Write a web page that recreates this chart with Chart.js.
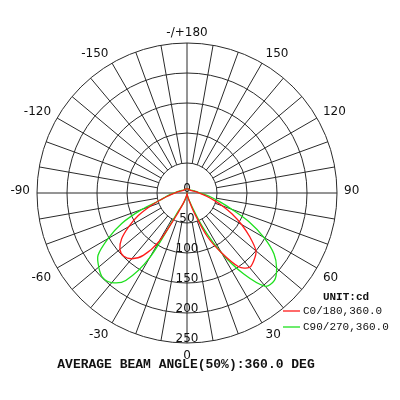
<!DOCTYPE html>
<html>
<head>
<meta charset="utf-8">
<script src="https://cdn.jsdelivr.net/npm/chart.js@4"></script>
<style>
  body { margin: 0; background: #fff; }
  canvas { display: block; }
</style>
</head>
<body>
<canvas id="chartContainer" width="400" height="400"></canvas>
<script>
// gamma angles, clockwise from the top of the diagram
let angles = [180, 175, 170, 165, 160, 155, 150, 145, 140, 135, 130, 125, 120, 115, 110, 105, 100, 95,
  90, 85, 80, 75, 70, 65, 60, 55, 50, 45, 40, 35, 30, 25, 20, 15, 10, 5,
  0, -5, -10, -15, -20, -25, -30, -35, -40, -45, -50, -55, -60, -65, -70, -75, -80, -85,
  -90, -95, -100, -105, -110, -115, -120, -125, -130, -135, -140, -145, -150, -155, -160, -165, -170, -175];

// intensity in cd, same order as angles
let c0_180 = [7, 7, 7, 7, 7, 7, 7, 7, 7, 7, 7, 8, 8, 9, 10, 12, 14, 17,
  20, 26, 34, 46, 63, 83, 105, 128, 150, 158, 162, 150, 115, 80, 35, 12, 5, 2,
  0, 2, 5, 9, 18, 40, 93, 127, 143, 149, 146, 133, 112, 90, 66, 47, 34, 26,
  20, 17, 14, 12, 10, 9, 8, 8, 7, 7, 7, 7, 7, 7, 7, 7, 7, 7];

let c90_270 = [7, 7, 7, 7, 7, 7, 7, 7, 7, 7, 7, 8, 9, 10, 11, 13, 15, 18,
  22, 30, 41, 57, 80, 115, 148, 177, 195, 206, 203, 165, 116, 65, 24, 10, 5, 2,
  0, 2, 5, 10, 20, 30, 125, 178, 195, 199, 192, 181, 152, 120, 80, 47, 36, 28,
  22, 18, 15, 13, 11, 10, 9, 8, 7, 7, 7, 7, 7, 7, 7, 7, 7, 7];

let ringTicks = [0, 50, 100, 150, 200, 250];
let labelAngles = [180, 150, 120, 90, 60, 30, 0, -30, -60, -90, -120, -150];

let seriesNames = ['C0/180,360.0', 'C90/270,360.0'];
let unitText = 'UNIT:cd';
let footerText = 'AVERAGE BEAM ANGLE(50%):360.0 DEG';

let lineColor = '#2a2a2a';
let textColor = '#111';

function angleText(a) {
  if (a === 180) return '-/+180';
  return String(a);
}

// spokes, axis cross, ring values and angle labels
let gridPlugin = {
  id: 'polarGrid',
  beforeDatasetsDraw(chart) {
    let scale = chart.scales.r;
    let ctx = chart.ctx;
    let inner = scale.getDistanceFromCenterForValue(50);
    let outer = scale.getDistanceFromCenterForValue(250);

    ctx.save();
    ctx.strokeStyle = lineColor;
    ctx.lineWidth = 1;
    angles.forEach((a, i) => {
      if (a % 10 !== 0) return;
      let from = (a % 90 === 0) ? 0 : inner;
      let p1 = scale.getPointPosition(i, from);
      let p2 = scale.getPointPosition(i, outer);
      ctx.beginPath();
      ctx.moveTo(p1.x, p1.y);
      ctx.lineTo(p2.x, p2.y);
      ctx.stroke();
    });

    ctx.fillStyle = textColor;
    ctx.font = '12px "DejaVu Sans"';
    ctx.textAlign = 'center';
    ctx.textBaseline = 'alphabetic';
    ringTicks.forEach((v) => {
      let d = scale.getDistanceFromCenterForValue(v);
      ctx.fillText(String(v), scale.xCenter, scale.yCenter + d - 1.5);
    });

    labelAngles.forEach((a) => {
      let i = angles.indexOf(a);
      let p = scale.getPointPosition(i, outer + 7);
      let dx = p.x - scale.xCenter;
      let dy = p.y - scale.yCenter;
      ctx.textAlign = Math.abs(dx) < 1 ? 'center' : (dx > 0 ? 'left' : 'right');
      let y = p.y;
      if (Math.abs(dy) < 1) y = p.y + 1;
      else if (dy > 0) y = p.y + 9;
      ctx.fillText(angleText(a), p.x, y);
    });
    ctx.restore();
  },
  afterDraw(chart) {
    let ctx = chart.ctx;
    ctx.save();
    ctx.fillStyle = textColor;
    ctx.textBaseline = 'middle';

    ctx.font = 'bold 11px "Liberation Mono"';
    ctx.textAlign = 'center';
    ctx.fillText(unitText, 346, 297);

    ctx.font = '11px "Liberation Mono"';
    ctx.textAlign = 'left';
    chart.data.datasets.forEach((ds, k) => {
      let y = 311 + k * 16;
      ctx.strokeStyle = ds.borderColor;
      ctx.lineWidth = 1.3;
      ctx.beginPath();
      ctx.moveTo(283, y);
      ctx.lineTo(300, y);
      ctx.stroke();
      ctx.fillText(ds.label, 303, y);
    });

    ctx.font = 'bold 13px "Liberation Mono"';
    ctx.textAlign = 'center';
    ctx.fillText(footerText, 186, 365);
    ctx.restore();
  }
};

let chart = new Chart(document.getElementById('chartContainer'), {
  type: 'radar',
  data: {
    labels: angles,
    datasets: [
      {
        label: seriesNames[0],
        data: c0_180,
        borderColor: '#ff1a1a',
        borderWidth: 1.3,
        fill: false,
        pointRadius: 0,
        tension: 0.3
      },
      {
        label: seriesNames[1],
        data: c90_270,
        borderColor: '#1ee01e',
        borderWidth: 1.3,
        fill: false,
        pointRadius: 0,
        tension: 0.3
      }
    ]
  },
  options: {
    responsive: false,
    animation: false,
    layout: { padding: { left: 37, right: 63, top: 43, bottom: 57 } },
    plugins: {
      legend: { display: false },
      tooltip: { enabled: false }
    },
    scales: {
      r: {
        min: 0,
        max: 250,
        startAngle: 0,
        ticks: { display: false, stepSize: 50 },
        grid: { circular: true, color: lineColor, lineWidth: 1 },
        angleLines: { display: false },
        pointLabels: { display: false }
      }
    }
  },
  plugins: [gridPlugin]
});
</script>
</body>
</html>
